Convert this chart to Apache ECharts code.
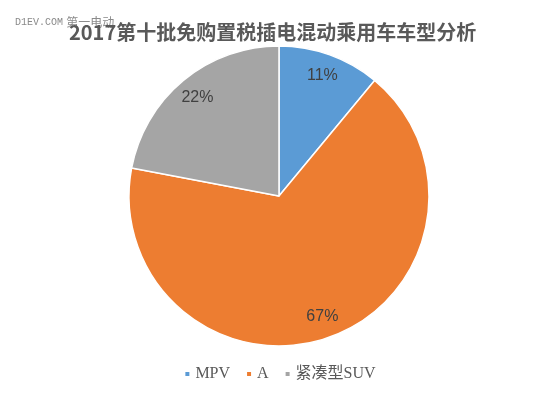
<!DOCTYPE html>
<html><head><meta charset="utf-8">
<script src="https://cdn.jsdelivr.net/npm/echarts@6/dist/echarts.min.js"></script>
<style>html,body{margin:0;padding:0;background:#fff}#c{width:559px;height:395px}</style>
</head><body><div id="c"></div>
<script>
const categories = ['MPV', 'A', '紧凑型SUV'];
const shares = [11, 67, 22];
const colors = ['#5B9BD5', '#ED7D31', '#A5A5A5'];
const titleText = '2017第十批免购置税插电混动乘用车车型分析';
const watermarkLatin = 'D1EV.COM';
const watermarkCJK = '第一电动';

const data = categories.map((n, i) => ({ name: n, value: shares[i], itemStyle: { color: colors[i] } }));
const chart = echarts.init(document.getElementById('c'));
chart.setOption({
  animation: false,
  backgroundColor: '#fff',
  title: {
    text: titleText, left: 64, top: 17,
    textStyle: { fontSize: 20, fontWeight: 'bold', color: '#595959', fontFamily: 'Noto Sans CJK SC' }
  },
  graphic: [{
    type: 'text', left: 15, top: 16, z: -1,
    style: {
      text: '{a|' + watermarkLatin + '} {b|' + watermarkCJK + '}',
      rich: {
        a: { fontFamily: '"Liberation Mono", "DejaVu Sans Mono"', fontSize: 10, fill: '#8a8a8a', verticalAlign: 'middle' },
        b: { fontFamily: 'Noto Sans CJK SC', fontSize: 12, fill: '#8a8a8a', verticalAlign: 'middle' }
      }
    }
  }],
  legend: {
    bottom: 8, left: 'center', icon: 'rect', itemWidth: 6, itemHeight: 6, itemGap: 15,
    data: categories,
    textStyle: { fontSize: 16, color: '#595959', fontFamily: '"Liberation Serif", "Noto Sans CJK SC"' }
  },
  series: [{
    type: 'pie', center: [279, 196], radius: [0, 150], startAngle: 90, clockwise: true,
    itemStyle: { borderColor: '#fff', borderWidth: 1.5 },
    label: { show: false }, labelLine: { show: false },
    data: data
  }, {
    type: 'pie', center: [279, 196], radius: [100, 150], startAngle: 90, clockwise: true,
    silent: true, legendHoverLink: false,
    itemStyle: { color: 'rgba(0,0,0,0)', borderWidth: 0 },
    label: {
      show: true, position: 'inside', fontSize: 16, color: '#404040',
      fontFamily: '"Liberation Sans", Arial',
      formatter: p => Math.round(p.percent) + '%'
    },
    labelLine: { show: false },
    data: categories.map((n, i) => ({ name: n, value: shares[i], itemStyle: { color: 'rgba(0,0,0,0)' } }))
  }]
});
</script></body></html>
